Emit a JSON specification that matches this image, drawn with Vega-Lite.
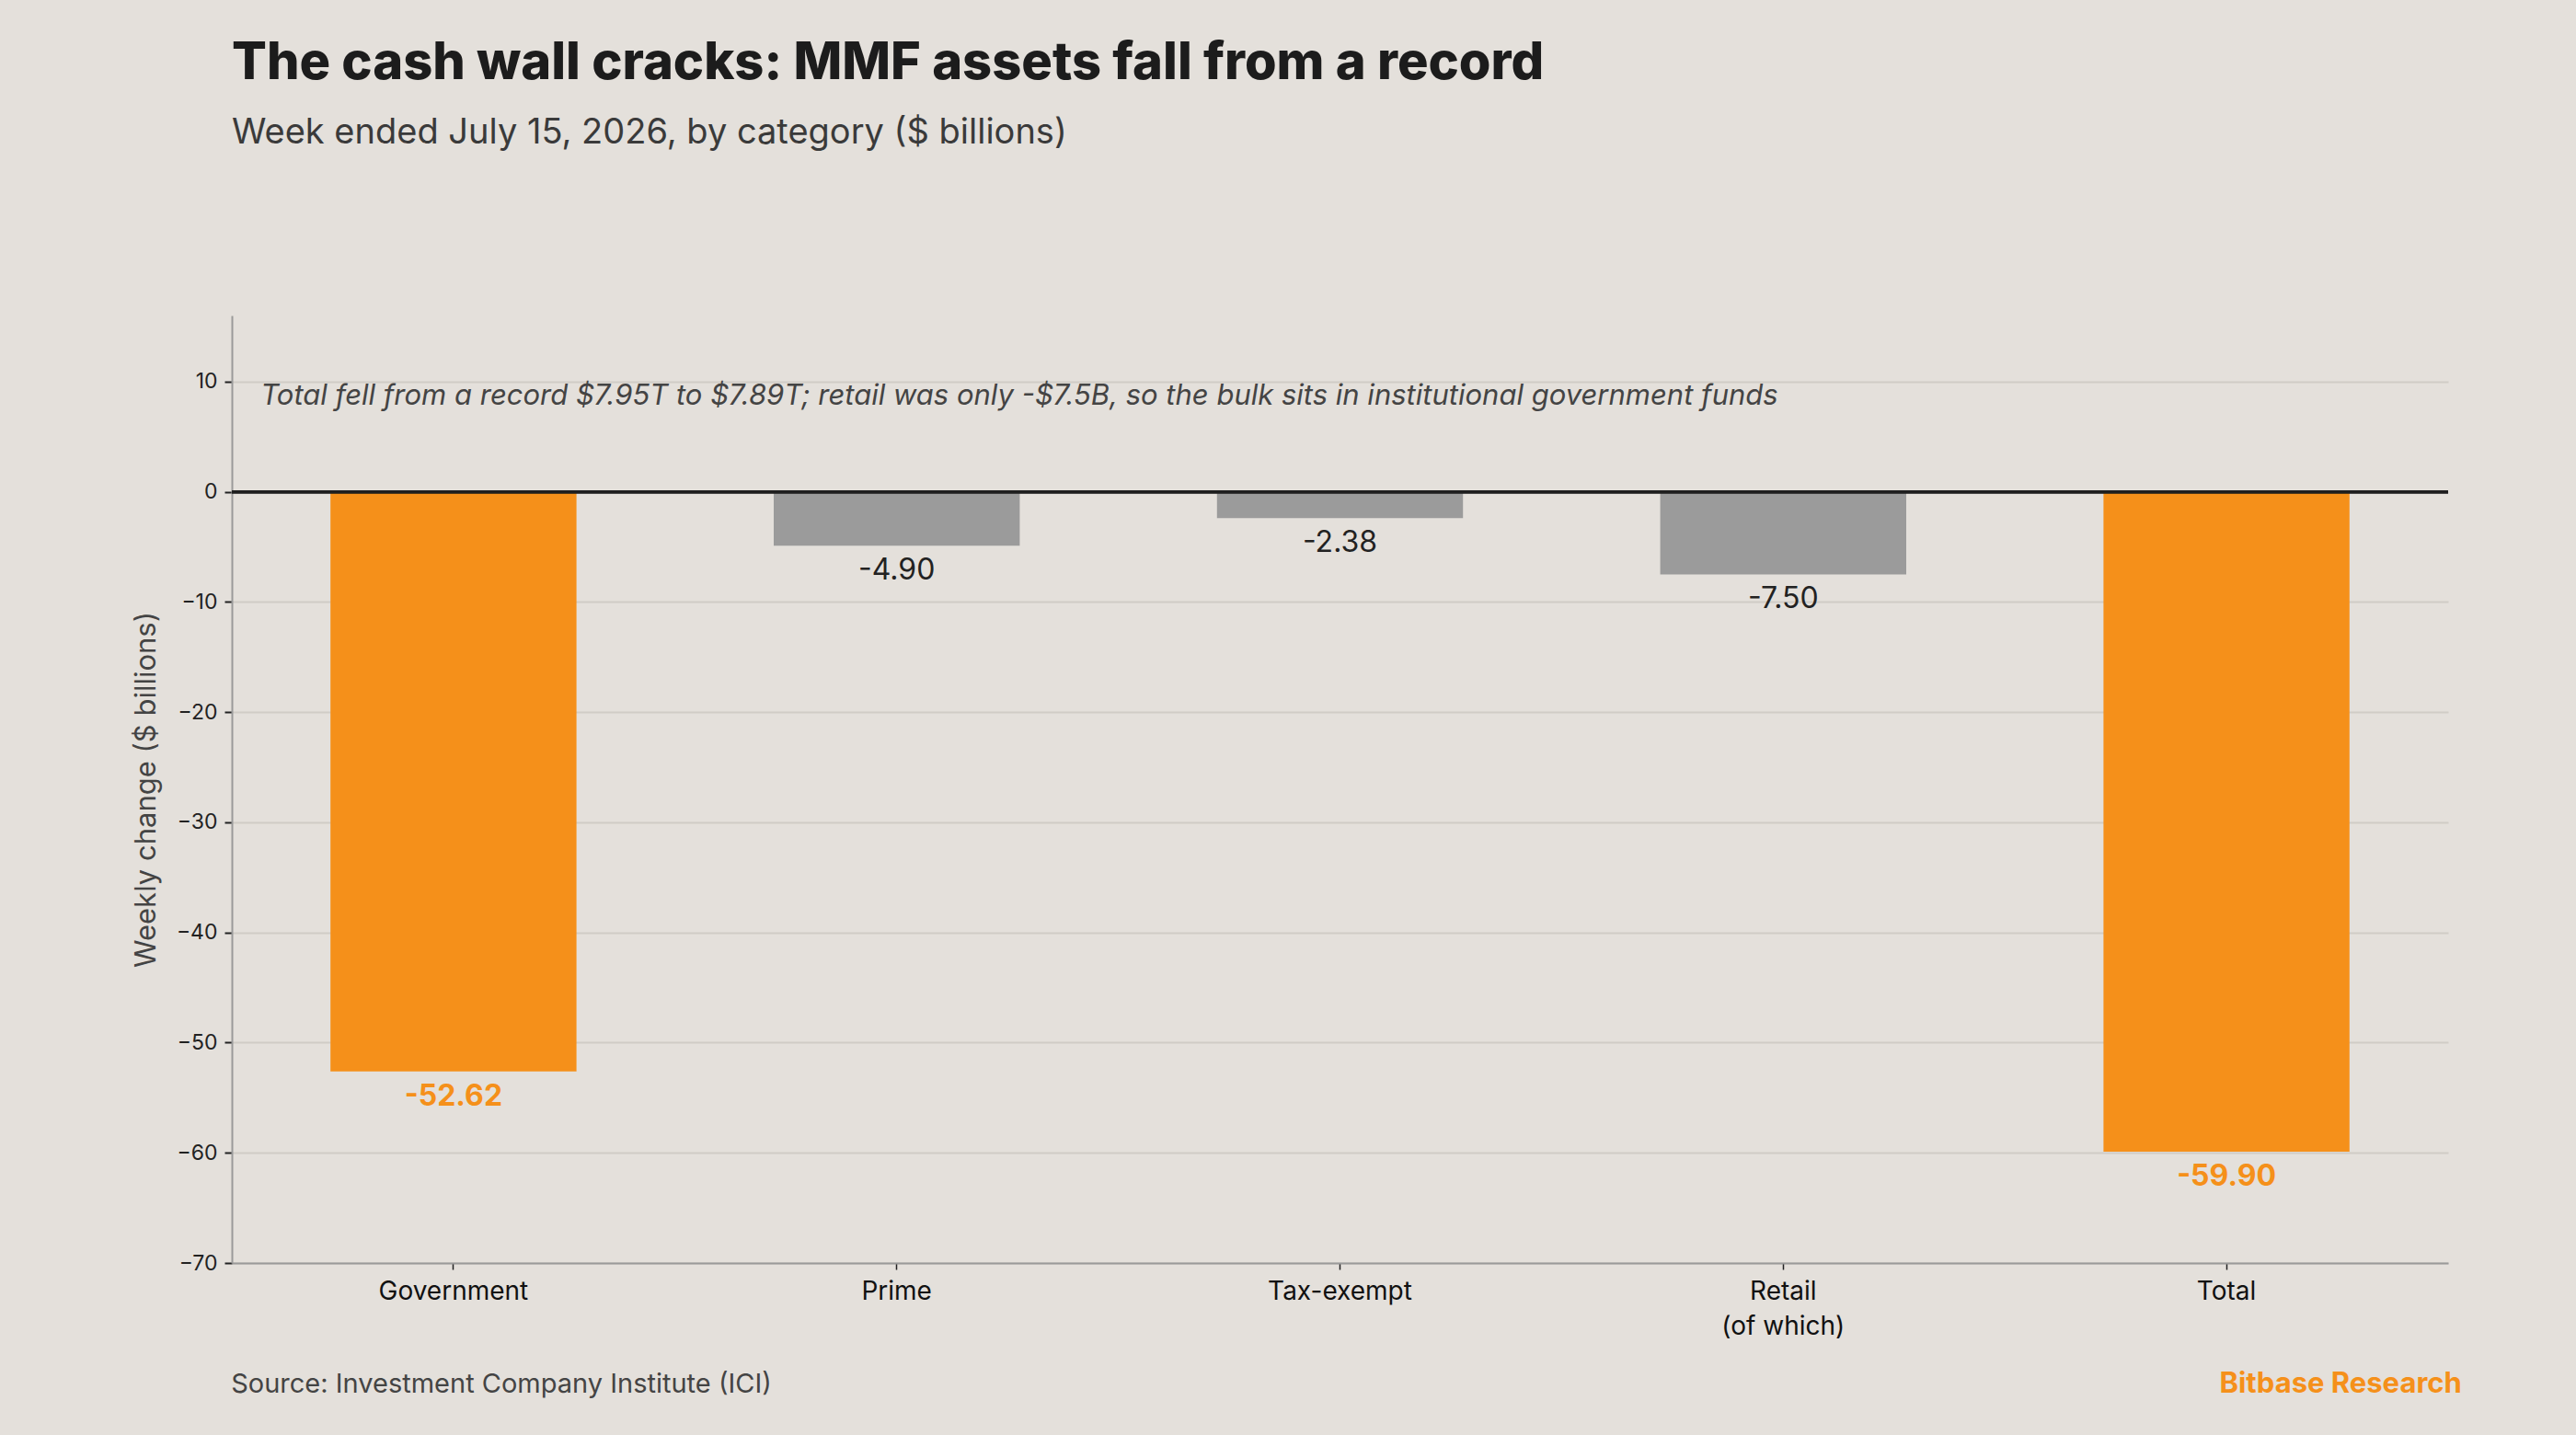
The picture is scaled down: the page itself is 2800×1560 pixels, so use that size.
{
  "$schema": "https://vega.github.io/schema/vega-lite/v6.json",
  "width": 2409,
  "height": 1030,
  "autosize": {"type": "none"},
  "padding": {"left": 252, "top": 343, "right": 139, "bottom": 187},
  "background": "#E4E0DB",
  "title": {
    "text": "The cash wall cracks: MMF assets fall from a record",
    "subtitle": "Week ended July 15, 2026, by category ($ billions)",
    "anchor": "start",
    "frame": "group",
    "font": "Inter",
    "fontSize": 56,
    "fontWeight": 800,
    "color": "#1C1C1C",
    "subtitleFont": "Inter",
    "subtitleFontSize": 38,
    "subtitleFontWeight": 400,
    "subtitleColor": "#3A3A3A",
    "subtitlePadding": 28,
    "offset": 178
  },
  "config": {
    "view": {"stroke": null},
    "font": "Inter"
  },
  "datasets": {
    "flows": [
      {"category": "Government", "change": -52.62, "kind": "highlight", "label": "-52.62"},
      {"category": "Prime", "change": -4.90, "kind": "other", "label": "-4.90"},
      {"category": "Tax-exempt", "change": -2.38, "kind": "other", "label": "-2.38"},
      {"category": "Retail (of which)", "change": -7.50, "kind": "other", "label": "-7.50"},
      {"category": "Total", "change": -59.90, "kind": "highlight", "label": "-59.90"}
    ]
  },
  "data": {"name": "flows"},
  "encoding": {
    "x": {
      "field": "category",
      "type": "nominal",
      "sort": null,
      "scale": {"paddingInner": 0.445, "paddingOuter": 0.2225},
      "axis": {
        "title": null,
        "labelAngle": 0,
        "labelFont": "Inter",
        "labelFontSize": 28,
        "labelColor": "#111111",
        "labelPadding": 10,
        "labelLineHeight": 38,
        "labelExpr": "datum.value == 'Retail (of which)' ? ['Retail', '(of which)'] : datum.value",
        "domainColor": "#9A9A9A",
        "domainWidth": 2,
        "tickColor": "#222222",
        "tickSize": 7,
        "tickWidth": 1.5,
        "grid": false
      }
    },
    "y": {
      "field": "change",
      "type": "quantitative",
      "scale": {"domain": [-70, 16], "nice": false, "zero": false},
      "axis": {
        "title": "Weekly change ($ billions)",
        "titleFont": "Inter",
        "titleFontSize": 31,
        "titleFontWeight": 400,
        "titleColor": "#444444",
        "titlePadding": 16,
        "values": [-70, -60, -50, -40, -30, -20, -10, 0, 10],
        "labelFont": "Inter",
        "labelFontSize": 23,
        "labelColor": "#222222",
        "labelPadding": 8,
        "domainColor": "#9A9A9A",
        "domainWidth": 2,
        "tickColor": "#222222",
        "tickSize": 8,
        "tickWidth": 2,
        "grid": true,
        "gridColor": "#D0CCC6",
        "gridWidth": 2
      }
    }
  },
  "layer": [
    {
      "mark": {"type": "bar"},
      "encoding": {
        "color": {
          "field": "kind",
          "type": "nominal",
          "scale": {"domain": ["highlight", "other"], "range": ["#F5901A", "#9B9B9B"]},
          "legend": null
        }
      }
    },
    {
      "mark": {"type": "rule", "color": "#1F1F1F", "strokeWidth": 3},
      "encoding": {
        "x": {"value": 0},
        "x2": {"value": "width"},
        "y": {"datum": 0}
      }
    },
    {
      "transform": [{"filter": "datum.kind == 'highlight'"}],
      "mark": {"type": "text", "baseline": "top", "dy": 12, "font": "Inter", "fontSize": 32, "fontWeight": 700, "color": "#F5901A"},
      "encoding": {"text": {"field": "label"}}
    },
    {
      "transform": [{"filter": "datum.kind == 'other'"}],
      "mark": {"type": "text", "baseline": "top", "dy": 12, "font": "Inter", "fontSize": 32, "fontWeight": 400, "color": "#222222"},
      "encoding": {"text": {"field": "label"}}
    },
    {
      "transform": [{"filter": "datum.category == 'Government'"}],
      "mark": {
        "type": "text",
        "text": "Total fell from a record $7.95T to $7.89T; retail was only -$7.5B, so the bulk sits in institutional government funds",
        "align": "left",
        "baseline": "alphabetic",
        "dx": -76,
        "dy": 25,
        "font": "Inter",
        "fontSize": 31,
        "fontStyle": "italic",
        "color": "#444444"
      },
      "encoding": {
        "x": {"field": "category", "type": "nominal", "bandPosition": 0},
        "y": {"datum": 10, "type": "quantitative"}
      }
    },
    {
      "transform": [{"filter": "datum.category == 'Government'"}],
      "mark": {
        "type": "text",
        "text": "Source: Investment Company Institute (ICI)",
        "align": "left",
        "baseline": "alphabetic",
        "dx": -108,
        "dy": 141,
        "font": "Inter",
        "fontSize": 29,
        "color": "#444444"
      },
      "encoding": {
        "x": {"field": "category", "type": "nominal", "bandPosition": 0},
        "y": {"datum": -70, "type": "quantitative"}
      }
    },
    {
      "transform": [{"filter": "datum.category == 'Total'"}],
      "mark": {
        "type": "text",
        "text": "Bitbase Research",
        "align": "right",
        "baseline": "alphabetic",
        "dx": 122,
        "dy": 141,
        "font": "Inter",
        "fontSize": 31,
        "fontWeight": 700,
        "color": "#F5901A"
      },
      "encoding": {
        "x": {"field": "category", "type": "nominal", "bandPosition": 1},
        "y": {"datum": -70, "type": "quantitative"}
      }
    }
  ]
}
